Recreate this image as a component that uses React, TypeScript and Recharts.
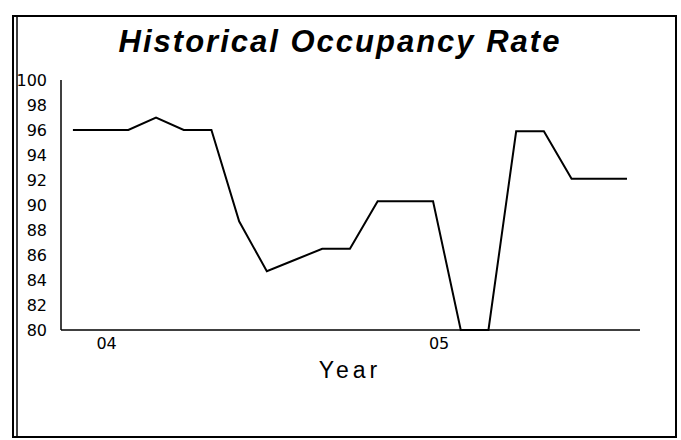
import React from 'react';
import { LineChart, Line, XAxis, YAxis } from 'recharts';

// monthly points, Dec 03 .. Aug 05 (index 1 = Jan 04, index 13 = Jan 05)
const monthIdx = [0, 1, 2, 3, 4, 5, 6, 7, 8, 9, 10, 11, 12, 13, 14, 15, 16, 17, 18, 19, 20];
const occupancy = [96, 96, 96, 97, 96, 96, 88.7, 84.7, 85.6, 86.5, 86.5, 90.3, 90.3, 90.3, 80, 80, 95.9, 95.9, 92.1, 92.1, 92.1];

const yearTicks = [1, 13];
const yearLabels = ['04', '05'];
const rateTicks = [80, 82, 84, 86, 88, 90, 92, 94, 96, 98, 100];

const data = monthIdx.map((t, i) => ({ t, rate: occupancy[i] }));

const W = 681;
const H = 440;
const tickFont = { fontFamily: 'DejaVu Sans', fontSize: 16, fill: '#000' };

export default function App() {
  return (
    <div style={{ position: 'absolute', left: 0, top: 0, width: W, height: H, background: '#fff' }}>
      <LineChart
        width={W}
        height={H}
        data={data}
        margin={{ top: 80, right: 41, bottom: 80, left: 0 }}
      >
        <XAxis
          dataKey="t"
          type="number"
          domain={[-0.43, 20.47]}
          ticks={yearTicks}
          tickFormatter={(v: number) => yearLabels[yearTicks.indexOf(v)] ?? ''}
          tickLine={false}
          axisLine={{ stroke: '#000', strokeWidth: 1.5 }}
          tick={{ ...tickFont, dx: 6 }}
          height={30}
        />
        <YAxis
          type="number"
          domain={[80, 100]}
          ticks={rateTicks}
          interval={0}
          tickLine={false}
          axisLine={{ stroke: '#000', strokeWidth: 1.5 }}
          tick={{ ...tickFont, dx: -6 }}
          width={61}
        />
        <Line
          type="linear"
          dataKey="rate"
          stroke="#000"
          strokeWidth={2}
          dot={false}
          isAnimationActive={false}
        />
      </LineChart>
      <svg
        width={W}
        height={H}
        style={{ position: 'absolute', left: 0, top: 0, pointerEvents: 'none' }}
      >
        <rect x={13} y={16} width={663} height={421} fill="none" stroke="#000" strokeWidth={2} />
        <line x1={17} y1={16} x2={17} y2={437} stroke="#000" strokeWidth={1.5} />
        <text
          x={340}
          y={52}
          textAnchor="middle"
          fontFamily="Liberation Sans"
          fontWeight="bold"
          fontStyle="italic"
          fontSize={31}
          letterSpacing={2}
        >
          Historical Occupancy Rate
        </text>
        <text
          x={350}
          y={378}
          textAnchor="middle"
          fontFamily="Liberation Sans"
          fontSize={23}
          letterSpacing={4}
        >
          Year
        </text>
      </svg>
    </div>
  );
}
